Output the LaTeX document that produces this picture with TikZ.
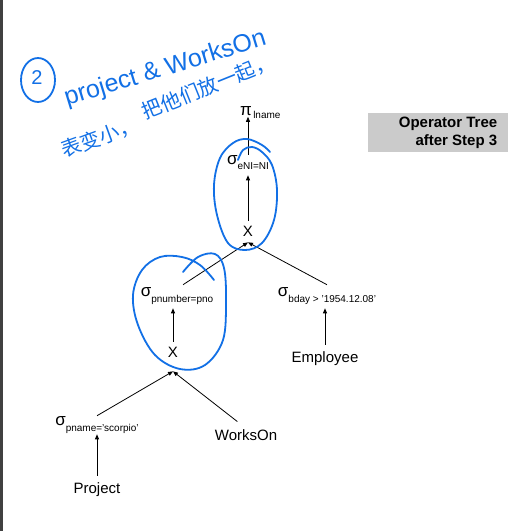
\documentclass[tikz,border=0pt]{standalone}
\usepackage{fontspec}
\setmainfont{Liberation Sans}
\newfontfamily\cjk{Noto Sans CJK SC}
\usetikzlibrary{arrows.meta}
\definecolor{pen}{RGB}{18,112,230}
\definecolor{boxgray}{RGB}{203,203,203}
\newcommand{\lowtxt}[1]{\raisebox{-0.3em}{\fontsize{10}{10}\selectfont #1}}
\begin{document}
\begin{tikzpicture}[x=1pt,y=-1pt,
  lbl/.style={font=\fontsize{15}{15}\selectfont, inner sep=1pt},
  sig/.style={font=\fontsize{17}{17}\selectfont, inner sep=1pt},
  arr/.style={-{Triangle[length=5pt,width=4pt]}, line width=0.8pt},
  ink/.style={draw=pen, line width=1.8pt, line cap=round, line join=round},
  hand/.style={text=pen, inner sep=0pt}]
\useasboundingbox (0,0) rectangle (511,531);
\fill[white] (0,0) rectangle (511,531);
\fill[black!75] (0,0) rectangle (3,531);

% operator tree
\node[sig] (pi) at (246,111) {π};
\node[anchor=west, inner sep=0pt, font=\fontsize{10}{10}\selectfont] (pisub) at ([yshift=-4pt]pi.east) {lname};
\node[sig] (senl) at (248,163) {σ\lowtxt{eNI=NI}};
\node[lbl] (x1) at (248,231) {X};
\node[sig] (spnum) at (177,296) {σ\lowtxt{pnumber=pno}};
\node[sig] (sbday) at (327,296) {σ\lowtxt{bday > '1954.12.08'}};
\node[lbl] (x2) at (173,352) {X};
\node[lbl] (employee) at (325,359) {Employee};
\node[sig] (spname) at (97,425) {σ\lowtxt{pname='scorpio'}};
\node[lbl] (workson) at (246,435) {WorksOn};
\node[lbl] (project) at (97,490) {Project};

\draw[arr, shorten <=6pt] (project.north) -- (project.north |- spname.south);
\draw[arr] (spname.north) -- ([yshift=-13pt]x2.south);
\draw[arr, shorten <=11pt] (workson.north) -- ([yshift=-13pt]x2.south);
\draw[arr, shorten <=4pt, shorten >=3pt] (x2.north) -- (x2.north |- spnum.south);
\draw[arr, shorten <=6pt, shorten >=3pt] (employee.north) -- (employee.north |- sbday.south);
\draw[arr] ([xshift=6pt,yshift=2pt]spnum.north) -- ([yshift=-5pt]x1.south);
\draw[arr] ([yshift=2pt]sbday.north) -- ([yshift=-5pt]x1.south);
\draw[arr, shorten <=4pt, shorten >=4pt] (x1.north) -- (x1.north |- senl.south);
\draw[arr] (senl.north) -- ([xshift=2pt]pi.south);

% caption box
\node[fill=boxgray, minimum width=140pt, minimum height=39pt, inner sep=0pt, anchor=north west] (box) at (368,113) {};
\node[anchor=east, align=right, inner sep=0pt, font=\bfseries\fontsize{15}{17.5}\selectfont] (boxtxt) at ([xshift=-11pt]box.east) {Operator Tree\\after Step 3};

% handwritten notes
\draw[ink] (38,80) ellipse [x radius=17, y radius=22];
\node[hand, font=\fontsize{20}{20}\selectfont] (two) at (37,78) {2};
\node[hand, rotate=17, anchor=base west, font=\fontsize{25}{25}\selectfont] (hw1) at (67,106) {project \& WorksOn};
\node[hand, rotate=20, anchor=west, font=\cjk\fontsize{20}{20}\selectfont] (hw2) at (62,151) {表变小，};
\node[hand, rotate=22, anchor=west, font=\cjk\fontsize{20}{20}\selectfont] (hw3) at (143,113) {把他们放一起，};

\draw[ink] plot[smooth, tension=0.6] coordinates {(238,160) (243,150) (252,147) (262,152) (272,165) (277,190) (274,220) (262,243) (245,250) (228,243) (217,215) (214,185) (220,158) (233,143) (247,139) (262,145) (270,152)};
\draw[ink] plot[smooth, tension=0.6] coordinates {(183,272) (198,257) (215,254) (224,268) (226,300) (223,340) (205,365) (180,369) (155,355) (138,325) (133,295) (142,270) (160,257) (182,257) (200,265) (214,280)};
\end{tikzpicture}
\end{document}
